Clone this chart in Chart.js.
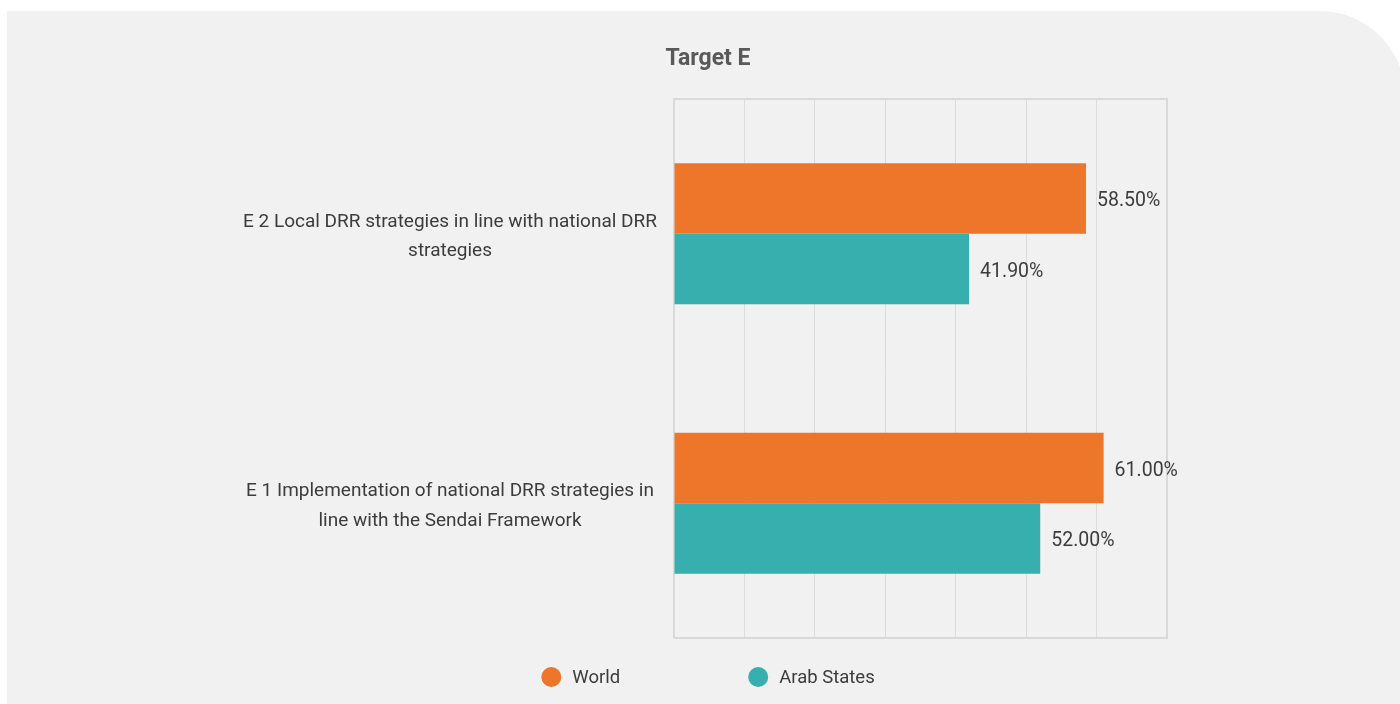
<!DOCTYPE html>
<html>
<head>
<meta charset="utf-8">
<title>Target E</title>
<script src="https://cdn.jsdelivr.net/npm/chart.js@4.4.1/dist/chart.umd.min.js"></script>
<style>
  html, body { margin: 0; padding: 0; background: #ffffff; width: 1400px; height: 704px; overflow: hidden; }
  #panel { position: absolute; left: 7px; top: 11px; width: 1398px; height: 720px; background: #f1f1f1; border-top-right-radius: 85px; }
  #chart { position: absolute; left: 0; top: 0; }
</style>
</head>
<body>
<div id="panel"></div>
<canvas id="chart" width="1400" height="704"></canvas>
<script>
// Indicator names (multi-line), top to bottom
const categories = [
  ['E 2 Local DRR strategies in line with national DRR', 'strategies'],
  ['E 1 Implementation of national DRR strategies in', 'line with the Sendai Framework']
];
const seriesNames = ['World', 'Arab States'];
const worldValues = [58.5, 61.0];
const arabStatesValues = [41.9, 52.0];
const xTicks = [0, 10, 20, 30, 40, 50, 60, 70];

const FONT = 'Roboto, "Liberation Sans", sans-serif';
const TEXT = '#3c3c3c';
const colors = ['#ED762B', '#38AFAF'];

// Light frame around the plotting area, drawn under the bars
const plotFrame = {
  id: 'plotFrame',
  beforeDatasetsDraw(chart) {
    const { ctx, chartArea: a } = chart;
    ctx.save();
    ctx.strokeStyle = '#d9d9d9';
    ctx.lineWidth = 2;
    ctx.strokeRect(a.left, a.top, a.right - a.left, a.bottom - a.top);
    ctx.restore();
  }
};

// Percent value written just past the end of every bar
const valueLabels = {
  id: 'valueLabels',
  afterDatasetsDraw(chart) {
    const { ctx } = chart;
    ctx.save();
    ctx.font = '19.5px ' + FONT;
    ctx.fillStyle = TEXT;
    ctx.textAlign = 'left';
    ctx.textBaseline = 'middle';
    chart.data.datasets.forEach((ds, i) => {
      chart.getDatasetMeta(i).data.forEach((bar, j) => {
        ctx.fillText(ds.data[j].toFixed(2) + '%', bar.x + 11, bar.y + 3);
      });
    });
    ctx.restore();
  }
};

// Circle key under the chart, one entry per series
const seriesKey = {
  id: 'seriesKey',
  afterDraw(chart) {
    const { ctx } = chart;
    const r = 10, textGap = 11, itemGap = 128, cx = 708, cy = 677;
    ctx.save();
    ctx.font = '18.5px ' + FONT;
    const items = chart.data.datasets.map(ds => ({
      label: ds.label, color: ds.backgroundColor,
      w: 2 * r + textGap + ctx.measureText(ds.label).width
    }));
    const total = items.reduce((s, it) => s + it.w, 0) + itemGap * (items.length - 1);
    let x = cx - total / 2;
    ctx.textBaseline = 'middle';
    ctx.textAlign = 'left';
    items.forEach(it => {
      ctx.beginPath();
      ctx.arc(x + r, cy, r, 0, Math.PI * 2);
      ctx.fillStyle = it.color;
      ctx.fill();
      ctx.fillStyle = TEXT;
      ctx.fillText(it.label, x + 2 * r + textGap, cy + 1);
      x += it.w + itemGap;
    });
    ctx.restore();
  }
};

new Chart(document.getElementById('chart'), {
  type: 'bar',
  data: {
    labels: categories,
    datasets: [
      { label: seriesNames[0], data: worldValues, backgroundColor: colors[0] },
      { label: seriesNames[1], data: arabStatesValues, backgroundColor: colors[1] }
    ]
  },
  options: {
    indexAxis: 'y',
    responsive: false,
    animation: false,
    datasets: {
      bar: {
        categoryPercentage: 0.523,
        barPercentage: 1.0,
        borderWidth: 0
      }
    },
    layout: { padding: { left: 16, right: 0, top: 45, bottom: 66 } },
    plugins: {
      legend: { display: false },
      tooltip: { enabled: false },
      title: {
        display: true,
        text: 'Target E',
        color: '#595959',
        font: { family: FONT, size: 23, weight: 'bold', lineHeight: 1.2 },
        padding: { top: 0, bottom: 26.4 }
      }
    },
    scales: {
      x: {
        min: xTicks[0],
        max: xTicks[xTicks.length - 1],
        ticks: { display: false, stepSize: xTicks[1] - xTicks[0] },
        grid: { color: '#dcdcdc', lineWidth: 1, drawTicks: false },
        border: { display: false }
      },
      y: {
        afterFit(scale) { scale.width = 674 - 16; },
        ticks: {
          color: TEXT,
          padding: 17,
          labelOffset: 3,
          crossAlign: 'center',
          font: { family: FONT, size: 19, lineHeight: 1.55 }
        },
        grid: { display: false, drawTicks: false },
        border: { display: false }
      },
      // empty margin on the right of the plot, keeps the title centred on the panel
      yMargin: {
        type: 'category',
        position: 'right',
        afterFit(scale) { scale.width = 1400 - 1167; },
        ticks: { display: false },
        grid: { display: false, drawTicks: false },
        border: { display: false }
      }
    }
  },
  plugins: [plotFrame, valueLabels, seriesKey]
});
</script>
</body>
</html>
